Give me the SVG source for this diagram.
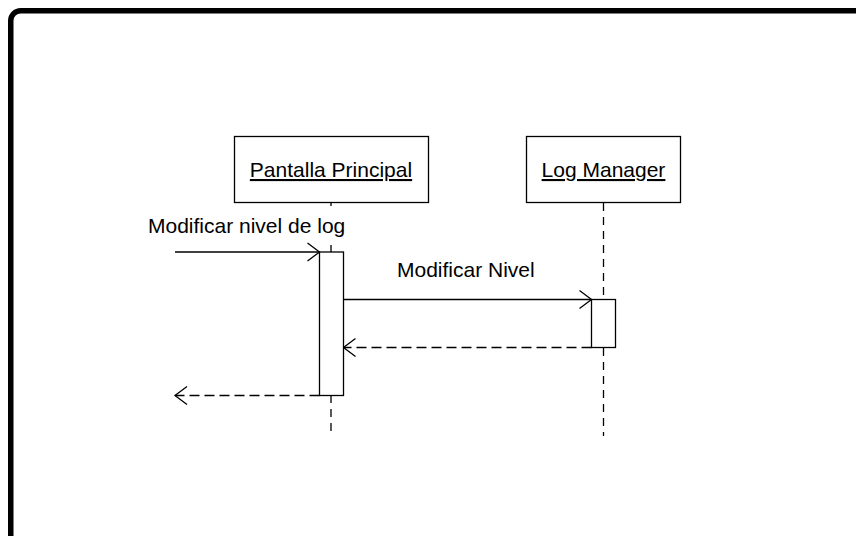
<svg xmlns="http://www.w3.org/2000/svg" width="856" height="536" viewBox="0 0 856 536">
  <style>
    .frame { fill: none; stroke: #000; stroke-width: 5.5; }
    .box { fill: #fff; stroke: #000; stroke-width: 1.3; }
    .label { font-family: "Liberation Sans", Arial, sans-serif; font-size: 21px; fill: #000; }
    .name { text-anchor: middle; text-decoration: underline; }
    .lifeline { stroke: #000; stroke-width: 1.3; stroke-dasharray: 8 6; fill: none; }
    .call { stroke: #000; stroke-width: 1.3; fill: none; marker-end: url(#open); }
    .reply { stroke: #000; stroke-width: 1.3; fill: none; stroke-dasharray: 10 5; marker-end: url(#open); }
  </style>
  <defs>
    <marker id="open" markerUnits="userSpaceOnUse" markerWidth="16" markerHeight="22" viewBox="-14 -10 16 20" refX="0" refY="0" orient="auto">
      <path d="M -12 -9 L 0 0 L -12 9" fill="none" stroke="#000" stroke-width="1.3"/>
    </marker>
  </defs>

  <rect width="856" height="536" fill="#fff"/>
  <rect class="frame" x="10.75" y="10.75" width="870" height="550" rx="10" ry="10"/>

  <g id="connectors">
    <!-- lifelines -->
    <line class="lifeline" x1="331" y1="203" x2="331" y2="252"/>
    <line class="lifeline" x1="331" y1="395" x2="331" y2="436"/>
    <line class="lifeline" x1="603.5" y1="203" x2="603.5" y2="299"/>
    <line class="lifeline" x1="603.5" y1="348" x2="603.5" y2="436"/>
    <!-- messages -->
    <line class="call" x1="175" y1="252" x2="319.5" y2="252"/>
    <line class="call" x1="343.5" y1="299.5" x2="591.5" y2="299.5"/>
    <line class="reply" x1="591.5" y1="347.5" x2="343.5" y2="347.5"/>
    <line class="reply" x1="319.5" y1="395.5" x2="175" y2="395.5"/>
    <!-- labels sit on a white backing so the lifeline does not cross them -->
    <rect x="146" y="206" width="204" height="34" fill="#fff"/>
    <text class="label" x="148" y="233">Modificar nivel de log</text>
    <text class="label" x="397" y="277">Modificar Nivel</text>
  </g>

  <g id="pantalla-principal">
    <rect class="box" x="234.5" y="136.5" width="194" height="66"/>
    <text class="label name" x="331" y="177">Pantalla Principal</text>
    <rect class="box" x="319.5" y="252" width="24" height="143.5"/>
  </g>

  <g id="log-manager">
    <rect class="box" x="526.5" y="136.5" width="154" height="66"/>
    <text class="label name" x="603.5" y="177">Log Manager</text>
    <rect class="box" x="591.5" y="299.5" width="24" height="48"/>
  </g>
</svg>
